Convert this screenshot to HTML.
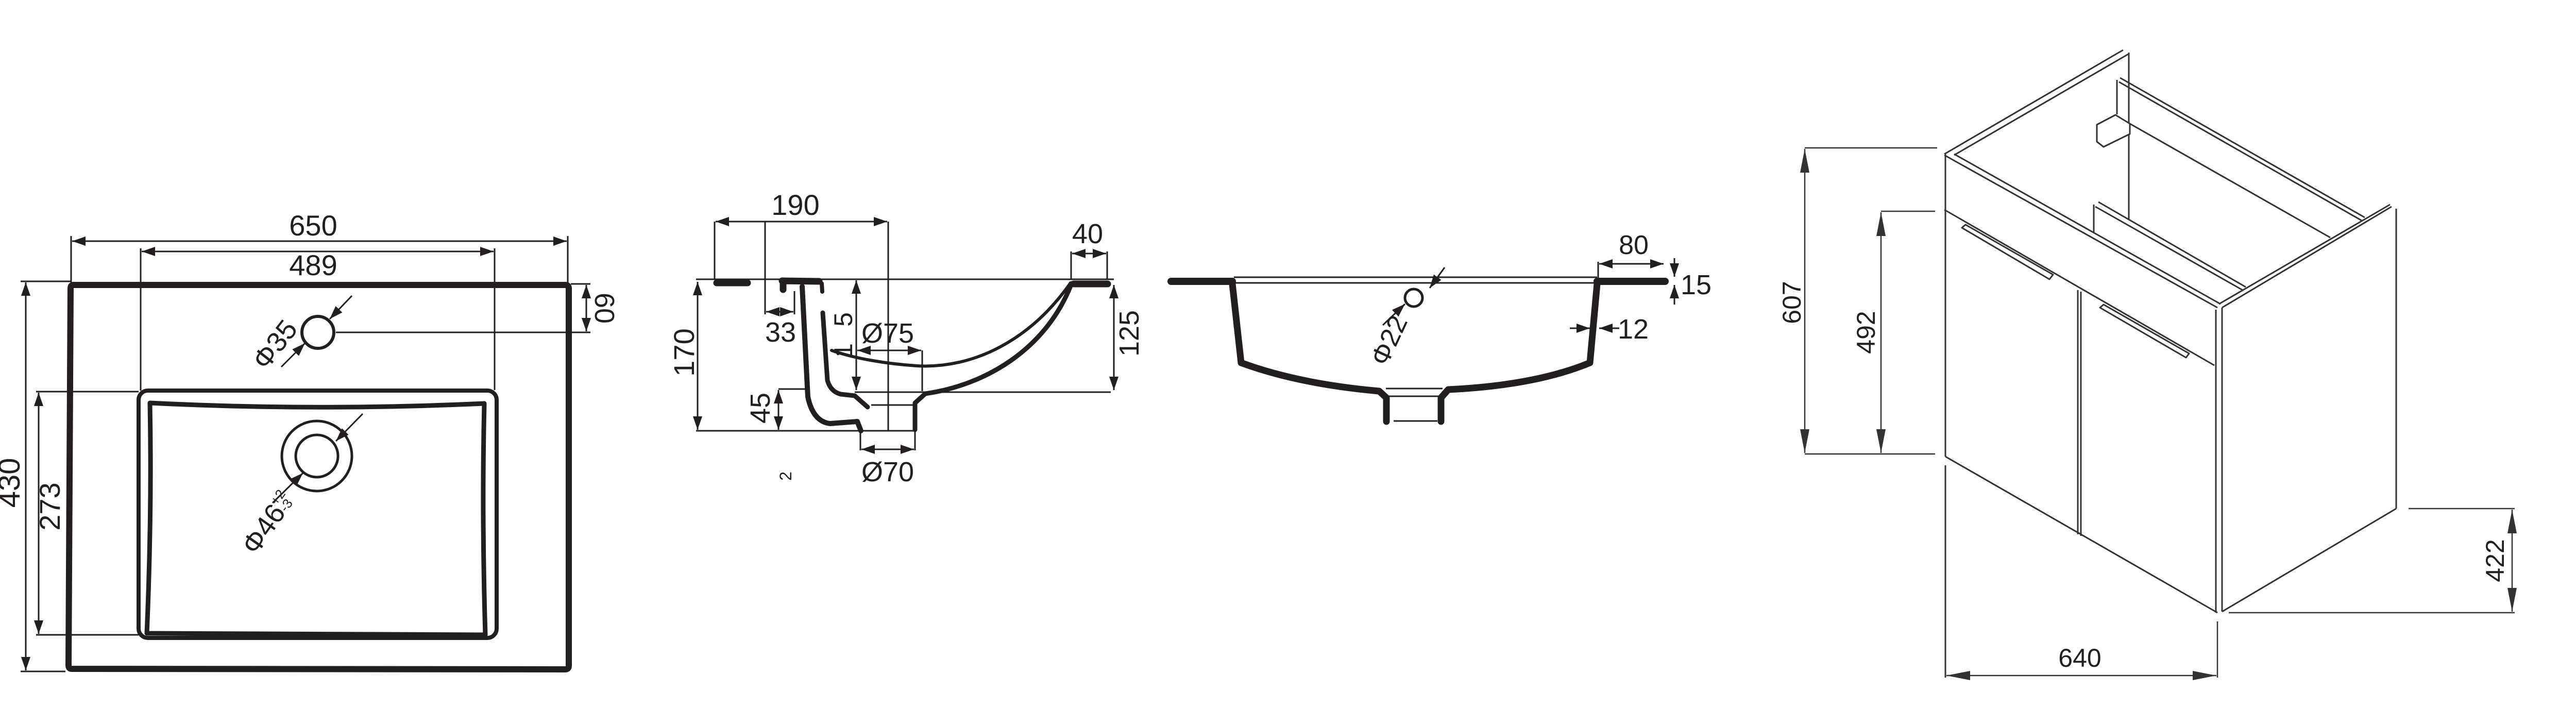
<!DOCTYPE html>
<html><head><meta charset="utf-8"><style>
html,body{margin:0;padding:0;background:#fff;width:5099px;height:1374px;overflow:hidden}
svg{display:block}
text{font-family:"Liberation Sans",Arial,sans-serif;fill:#231f20}
</style></head><body>
<svg width="5099" height="1374" viewBox="0 0 5099 1374" xmlns="http://www.w3.org/2000/svg">
<defs>
<marker id="a" markerUnits="userSpaceOnUse" markerWidth="28" markerHeight="18" refX="26" refY="9" orient="auto-start-reverse"><path d="M0,0 L26,9 L0,18 z" fill="#231f20"/></marker>
<marker id="b" markerUnits="userSpaceOnUse" markerWidth="48" markerHeight="18" refX="46" refY="9" orient="auto-start-reverse"><path d="M0,0 L46,9 L0,18 z" fill="#333"/></marker>
</defs>

<!-- ============ DRAWING 1 (top view) ============ -->
<g stroke="#231f20" fill="none" stroke-linecap="round" stroke-linejoin="round">
 <path d="M142,553 L1098,553 Q1104,553 1104,560 L1104,1292 Q1104,1299 1097,1299 L139,1298 Q133,1298 133,1291 L137,560 Q137,553 142,553 Z" stroke-width="12"/>
 <rect x="269" y="758" width="695" height="480" rx="18" stroke-width="8"/>
 <path d="M291,782 Q615,798 940,783 Q935,1000 942,1232 L285,1229 Q295,1000 291,782 Z" stroke-width="9"/>
 <circle cx="617" cy="645" r="31" stroke-width="6"/>
 <circle cx="615" cy="885" r="68" stroke-width="5"/>
 <circle cx="615" cy="885" r="41" stroke-width="5"/>
</g>
<g stroke="#231f20" stroke-width="3" fill="none">
 <line x1="140" y1="468" x2="1100" y2="468" marker-start="url(#a)" marker-end="url(#a)"/>
 <line x1="138" y1="458" x2="138" y2="548"/>
 <line x1="1102" y1="458" x2="1102" y2="548"/>
 <line x1="275" y1="488" x2="958" y2="488" marker-start="url(#a)" marker-end="url(#a)"/>
 <line x1="273" y1="482" x2="273" y2="758"/>
 <line x1="960" y1="482" x2="960" y2="757"/>
 <line x1="683" y1="574" x2="640" y2="619" marker-end="url(#a)"/>
 <line x1="546" y1="712" x2="592" y2="666" marker-end="url(#a)"/>
 <line x1="652" y1="645" x2="1146" y2="645"/>
 <line x1="1108" y1="551" x2="1146" y2="551"/>
 <line x1="1138" y1="553" x2="1138" y2="643" marker-start="url(#a)" marker-end="url(#a)"/>
 <line x1="704" y1="803" x2="652" y2="856" marker-end="url(#a)"/>
 <line x1="529" y1="976" x2="588" y2="918" marker-end="url(#a)"/>
 <line x1="40" y1="546" x2="137" y2="546"/>
 <line x1="40" y1="1303" x2="127" y2="1303"/>
 <line x1="50" y1="548" x2="50" y2="1301" marker-start="url(#a)" marker-end="url(#a)"/>
 <line x1="70" y1="760" x2="269" y2="760"/>
 <line x1="70" y1="1232" x2="269" y2="1232"/>
 <line x1="75" y1="762" x2="75" y2="1230" marker-start="url(#a)" marker-end="url(#a)"/>
</g>
<text x="608" y="457" font-size="56" text-anchor="middle">650</text>
<text x="608" y="534" font-size="56" text-anchor="middle">489</text>
<text transform="translate(548,680) rotate(-52)" font-size="54" text-anchor="middle">Φ35</text>
<text transform="translate(1155,598) rotate(90)" font-size="54" text-anchor="middle">60</text>
<text transform="translate(535,1025) rotate(-55)" font-size="54" text-anchor="middle">Φ46<tspan font-size="26" dy="-22">+2</tspan><tspan font-size="26" dx="-30" dy="22">-3</tspan></text>
<text transform="translate(38,937) rotate(-90)" font-size="58" text-anchor="middle">430</text>
<text transform="translate(116,983) rotate(-90)" font-size="56" text-anchor="middle">273</text>

<!-- ============ DRAWING 2 (section) ============ -->
<g stroke="#231f20" stroke-width="3" fill="none">
 <line x1="1351" y1="542" x2="2162" y2="542"/>
 <line x1="1389" y1="430" x2="1722" y2="430" marker-start="url(#a)" marker-end="url(#a)"/>
 <line x1="1387" y1="430" x2="1387" y2="542"/>
 <line x1="1485" y1="430" x2="1485" y2="610"/>
 <line x1="1724" y1="430" x2="1724" y2="836"/>
 <line x1="1542" y1="565" x2="1542" y2="610"/>
 <line x1="1487" y1="605" x2="1540" y2="605" marker-start="url(#a)" marker-end="url(#a)"/>
 <line x1="2079" y1="488" x2="2079" y2="542"/>
 <line x1="2149" y1="488" x2="2149" y2="542"/>
 <line x1="2081" y1="492" x2="2147" y2="492" marker-start="url(#a)" marker-end="url(#a)"/>
 <line x1="2162" y1="553" x2="2162" y2="757" marker-start="url(#a)" marker-end="url(#a)"/>
 <line x1="1659" y1="761" x2="2156" y2="761"/>
 <line x1="1662" y1="544" x2="1662" y2="757" marker-start="url(#a)" marker-end="url(#a)"/>
 <line x1="1664" y1="680" x2="1788" y2="680" marker-start="url(#a)" marker-end="url(#a)"/>
 <line x1="1790" y1="680" x2="1790" y2="759"/>
 <line x1="1691" y1="786" x2="1774" y2="786"/>
 <line x1="1511" y1="755" x2="1566" y2="755"/>
 <line x1="1511" y1="757" x2="1511" y2="834" marker-start="url(#a)" marker-end="url(#a)"/>
 <line x1="1354" y1="547" x2="1354" y2="834" marker-start="url(#a)" marker-end="url(#a)"/>
 <line x1="1351" y1="836" x2="1778" y2="836"/>
 <line x1="1670" y1="836" x2="1670" y2="874"/>
 <line x1="1776" y1="836" x2="1776" y2="874"/>
 <line x1="1672" y1="872" x2="1774" y2="872" marker-start="url(#a)" marker-end="url(#a)"/>
</g>
<g stroke="#231f20" fill="none" stroke-linecap="round" stroke-linejoin="round">
 <line x1="1391" y1="549" x2="1451" y2="549" stroke-width="13"/>
 <path d="M1518,545 L1590,546 M1520,546 L1520,562" stroke-width="13"/>
 <path d="M1595,550 L1596,566" stroke-width="8"/>
 <line x1="2084" y1="551" x2="2150" y2="551" stroke-width="13"/>
 <path d="M1557,556 L1568,770 Q1578,818 1611,822 L1664,818 L1671,836" stroke-width="10"/>
 <path d="M1597,607 L1606,738 Q1612,760 1632,765 L1659,768 L1684,790" stroke-width="9"/>
 <path d="M2080,550 C2030,680 1910,748 1796,764 L1776,782 L1776,834" stroke-width="9"/>
 <path d="M2078,549 C2000,660 1890,716 1780,710 C1720,706 1660,696 1614,680" stroke-width="6"/>
</g>
<text x="1544" y="417" font-size="56" text-anchor="middle">190</text>
<text x="1515" y="663" font-size="54" text-anchor="middle">33</text>
<text x="2111" y="472" font-size="54" text-anchor="middle">40</text>
<text transform="translate(2210,647) rotate(-90)" font-size="54" text-anchor="middle">125</text>
<text transform="translate(1654,620) rotate(-90)" font-size="50" text-anchor="middle">5</text>
<text transform="translate(1654,680) rotate(-90)" font-size="50" text-anchor="middle">1</text>
<text x="1723" y="665" font-size="54" text-anchor="middle">Ø75</text>
<text transform="translate(1494,792) rotate(-90)" font-size="54" text-anchor="middle">45</text>
<text transform="translate(1347,684) rotate(-90)" font-size="56" text-anchor="middle">170</text>
<text x="1723" y="934" font-size="54" text-anchor="middle">Ø70</text>
<text transform="translate(1536,924) rotate(-90)" font-size="32" text-anchor="middle">2</text>

<!-- ============ DRAWING 3 (front section) ============ -->
<g stroke="#231f20" fill="none" stroke-linecap="round" stroke-linejoin="round">
 <line x1="2273" y1="546" x2="2392" y2="546" stroke-width="14"/>
 <line x1="3100" y1="546" x2="3232" y2="546" stroke-width="14"/>
 <path d="M2392,551 L2409,704 Q2520,745 2677,759 L2691,772 L2691,818" stroke-width="13"/>
 <path d="M3100,551 L3086,704 Q2980,748 2811,756 L2797,772 L2797,818" stroke-width="13"/>
 <circle cx="2744" cy="578" r="17" stroke-width="5"/>
</g>
<g stroke="#231f20" stroke-width="3" fill="none">
 <line x1="2395" y1="538" x2="3100" y2="538"/>
 <line x1="2395" y1="549" x2="3100" y2="549"/>
 <line x1="2690" y1="754" x2="2800" y2="754"/>
 <line x1="2695" y1="769" x2="2795" y2="769"/>
 <line x1="2705" y1="817" x2="2790" y2="817"/>
 <line x1="2804" y1="519" x2="2775" y2="559" marker-end="url(#a)"/>
 <line x1="2684" y1="631" x2="2727" y2="590" marker-end="url(#a)"/>
 <line x1="3102" y1="508" x2="3102" y2="545"/>
 <line x1="3104" y1="512" x2="3229" y2="512" marker-start="url(#a)" marker-end="url(#a)"/>
 <line x1="3250" y1="501" x2="3250" y2="537" marker-end="url(#a)"/>
 <line x1="3250" y1="591" x2="3250" y2="553" marker-end="url(#a)"/>
 <line x1="3047" y1="637" x2="3086" y2="637" marker-end="url(#a)"/>
 <line x1="3143" y1="637" x2="3104" y2="637" marker-end="url(#a)"/>
</g>
<text x="3171" y="493" font-size="52" text-anchor="middle">80</text>
<text x="3262" y="571" font-size="54">15</text>
<text x="3140" y="657" font-size="54">12</text>
<text transform="translate(2712,668) rotate(-65)" font-size="52" text-anchor="middle">Φ22</text>

<!-- ============ DRAWING 4 (cabinet) ============ -->
<g stroke="#333" stroke-width="3" fill="none" stroke-linejoin="round">
 <line x1="3774" y1="299" x2="4121" y2="97"/>
 <line x1="3793" y1="301" x2="4131" y2="105"/>
 <line x1="4132" y1="102" x2="4132" y2="426"/>
 <line x1="3774" y1="301" x2="4304" y2="597"/>
 <line x1="3793" y1="299" x2="4310" y2="590"/>
 <line x1="3774" y1="407" x2="4298" y2="709"/>
 <line x1="3776" y1="299" x2="3776" y2="886"/>
 <line x1="3776" y1="903" x2="3776" y2="1315"/>
 <line x1="3776" y1="886" x2="4304" y2="1189"/>
 <line x1="4301" y1="601" x2="4301" y2="1189"/>
 <line x1="4313" y1="597" x2="4313" y2="1187"/>
 <line x1="4313" y1="597" x2="4642" y2="401"/>
 <line x1="4307" y1="590" x2="4639" y2="397"/>
 <line x1="4651" y1="405" x2="4651" y2="987"/>
 <line x1="4651" y1="987" x2="4313" y2="1187"/>
 <line x1="4109" y1="155" x2="4109" y2="222"/>
 <line x1="4115" y1="151" x2="4590" y2="422"/>
 <line x1="4113" y1="159" x2="4584" y2="428"/>
 <line x1="4134" y1="240" x2="4523" y2="461"/>
 <polygon points="4070,242 4106,223 4134,240 4134,260 4083,285 4070,275" fill="#fff"/>
 <line x1="4064" y1="397" x2="4064" y2="451"/>
 <line x1="4073" y1="392" x2="4359" y2="557"/>
 <line x1="4067" y1="401" x2="4353" y2="563"/>
 <line x1="4033" y1="563" x2="4033" y2="1037"/>
 <line x1="4039" y1="566" x2="4039" y2="1040"/>
 <polygon points="3808,442 3815,436 3985,533 3978,542"/>
 <polygon points="4076,597 4083,591 4249,686 4243,694"/>
</g>
<g stroke="#333" stroke-width="2.5" fill="none">
 <line x1="3503" y1="287" x2="3760" y2="287"/>
 <line x1="3503" y1="881" x2="3756" y2="881"/>
 <line x1="3503" y1="289" x2="3503" y2="879" marker-start="url(#b)" marker-end="url(#b)"/>
 <line x1="3651" y1="410" x2="3756" y2="410"/>
 <line x1="3651" y1="412" x2="3651" y2="879" marker-start="url(#b)" marker-end="url(#b)"/>
 <line x1="4304" y1="1206" x2="4304" y2="1315"/>
 <line x1="3778" y1="1311" x2="4302" y2="1311" marker-start="url(#b)" marker-end="url(#b)"/>
 <line x1="4675" y1="987" x2="4881" y2="987"/>
 <line x1="4326" y1="1189" x2="4881" y2="1189"/>
 <line x1="4876" y1="989" x2="4876" y2="1187" marker-start="url(#b)" marker-end="url(#b)"/>
</g>
<g style="fill:#333">
<text x="4037" y="1294" font-size="50" text-anchor="middle" fill="#333">640</text>
<text transform="translate(3495,587) rotate(-90)" font-size="50" text-anchor="middle" fill="#333">607</text>
<text transform="translate(3639,645) rotate(-90)" font-size="50" text-anchor="middle" fill="#333">492</text>
<text transform="translate(4860,1088) rotate(-90)" font-size="50" text-anchor="middle" fill="#333">422</text>
</g>
</svg>
</body></html>
